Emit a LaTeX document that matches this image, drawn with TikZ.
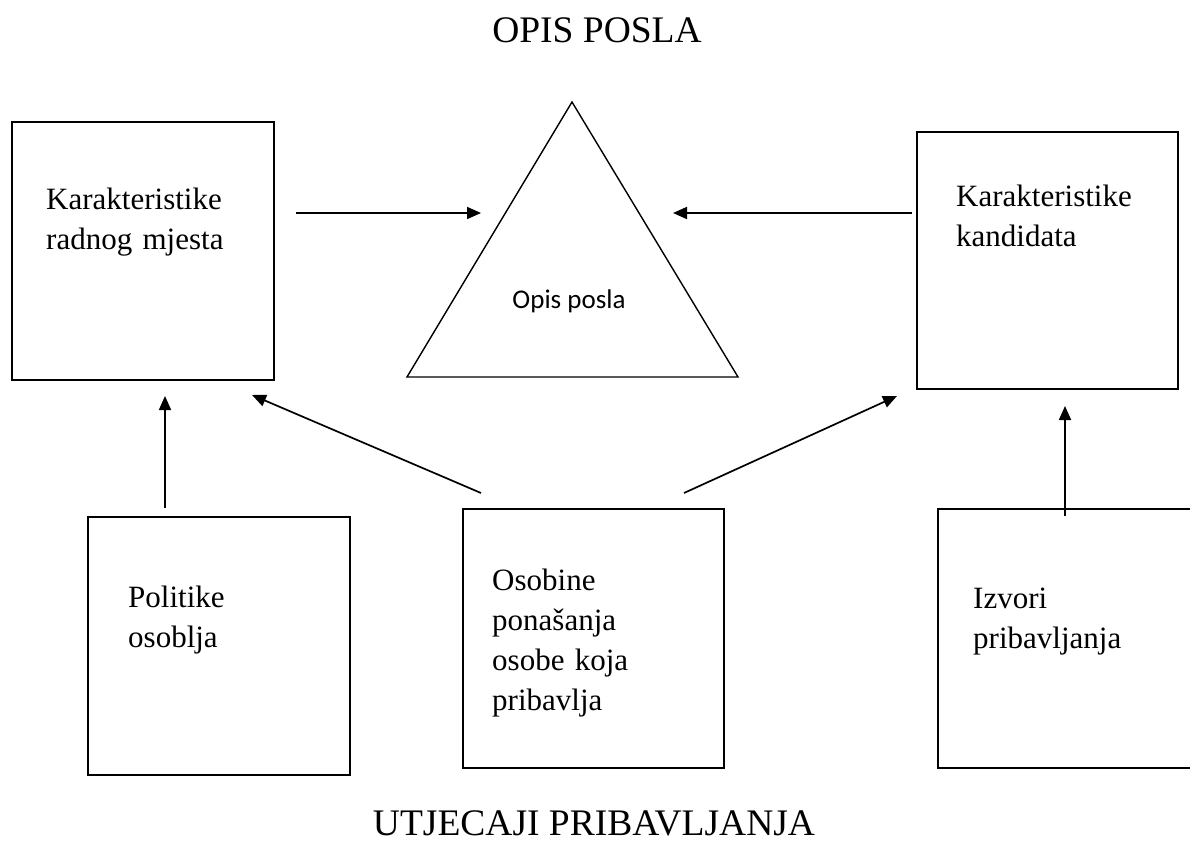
\documentclass[tikz,border=0pt]{standalone}
\usepackage{fontspec}
\setmainfont{Liberation Serif}
\newfontfamily\carlito{Carlito}
\usetikzlibrary{arrows.meta}
\begin{document}
\begin{tikzpicture}[x=1pt,y=-1pt,
  box/.style={draw, line width=1.5pt, inner sep=0pt, anchor=north west},
  boxtext/.style={font=\fontsize{31}{40}\selectfont, text width=250pt, align=left, anchor=base west, inner sep=0pt},
  titletext/.style={font=\fontsize{37.5}{45}\selectfont, anchor=base, inner sep=0pt},
  arr/.style={line width=1.7pt, -{Triangle[length=14pt,width=12pt]}}]
\useasboundingbox (0,0) rectangle (1190,843);
\clip (0,0) rectangle (1190,843);
% titles
\node[titletext] (top) at (597,43) {OPIS POSLA};
\node[titletext] (bottom) at (594,835) {UTJECAJI PRIBAVLJANJA};
% boxes
\node[box, minimum width=262pt, minimum height=258pt] (rm) at (11,121) {};
\node[box, minimum width=261pt, minimum height=257pt] (kk) at (916,131) {};
\node[box, minimum width=262pt, minimum height=258pt] (po) at (87,516) {};
\node[box, minimum width=261pt, minimum height=259pt] (os) at (462,508) {};
\node[box, minimum width=280pt, minimum height=259pt] (iz) at (937,508) {};
% box texts
\node[boxtext] (rmt) at (46,209) {Karakteristike\\radnog mjesta};
\node[boxtext] (kkt) at (956,206) {Karakteristike\\kandidata};
\node[boxtext] (pot) at (128,607) {Politike\\osoblja};
\node[boxtext] (ost) at (492,590) {Osobine\\ponašanja\\osobe koja\\pribavlja};
\node[boxtext] (izt) at (973,608) {Izvori\\pribavljanja};
% triangle
\coordinate (apex) at (572,102);
\coordinate (bl) at (407,377);
\coordinate (br) at (738,377);
\draw[line width=1.4pt, line join=miter] (apex) -- (br) -- (bl) -- cycle;
\node[font=\carlito\fontsize{27}{32}\selectfont, inner sep=0pt] (op) at (569,301) {Opis posla};
% arrow end points
\coordinate (a1s) at (296,213); \coordinate (a1e) at (481,213);
\coordinate (a2s) at (912,213); \coordinate (a2e) at (673,213);
\coordinate (a3s) at (165,508); \coordinate (a3e) at (165,396);
\coordinate (a4s) at (481,493); \coordinate (a4e) at (252,395);
\coordinate (a5s) at (684,493); \coordinate (a5e) at (897,396);
\coordinate (a6s) at (1065,516); \coordinate (a6e) at (1065,406);
\draw[arr] (a1s) -- (a1e);
\draw[arr] (a2s) -- (a2e);
\draw[arr] (a3s) -- (a3e);
\draw[arr] (a4s) -- (a4e);
\draw[arr] (a5s) -- (a5e);
\draw[arr] (a6s) -- (a6e);
\end{tikzpicture}
\end{document}
